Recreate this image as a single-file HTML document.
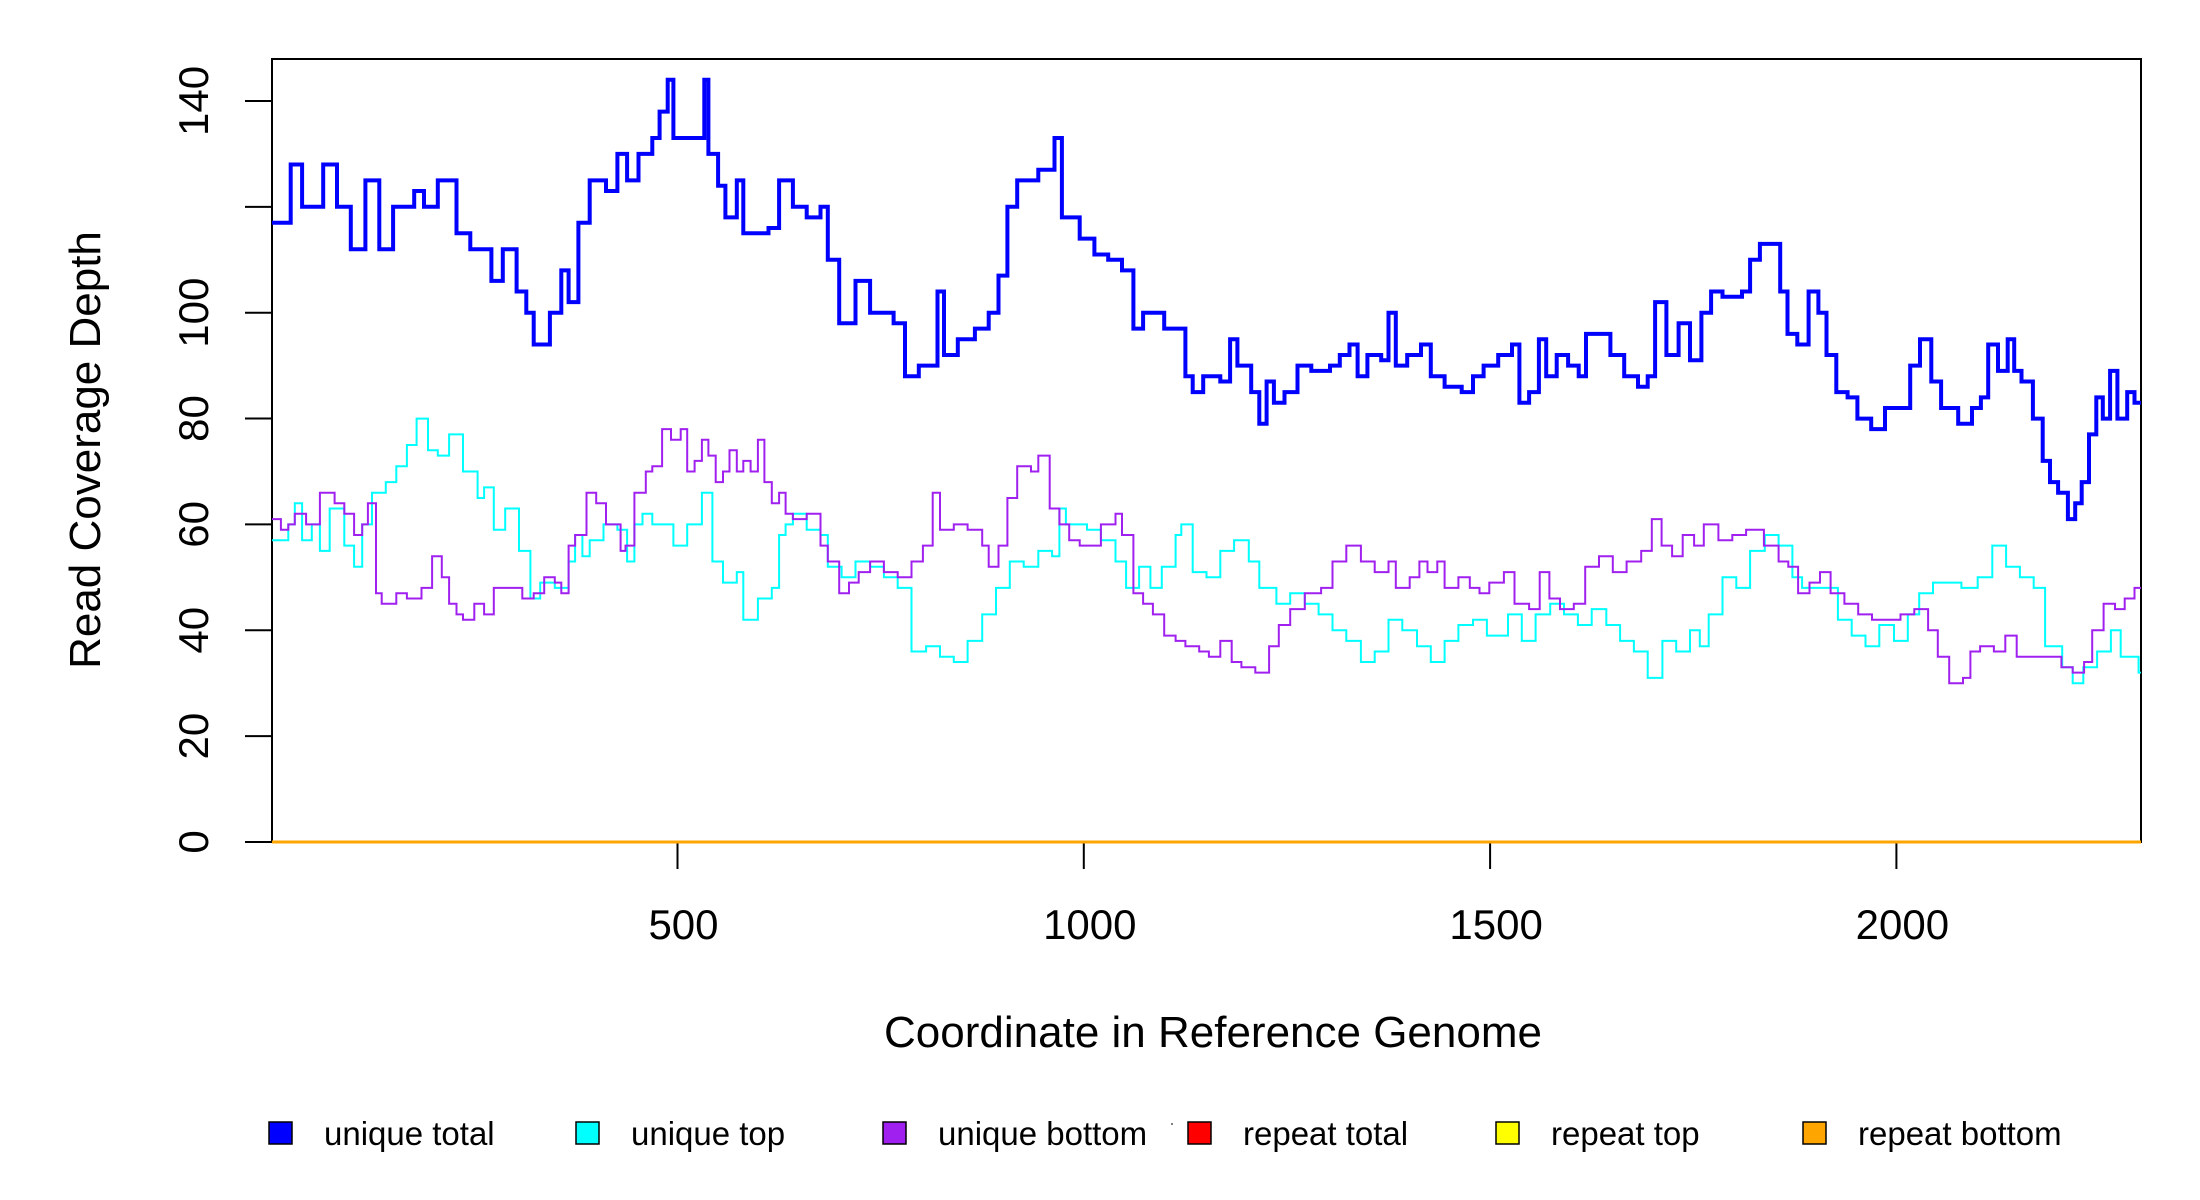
<!DOCTYPE html>
<html><head><meta charset="utf-8"><style>
html,body{margin:0;padding:0;background:#fff}
svg{display:block;font-family:"Liberation Sans",Arial,sans-serif}
</style></head><body>
<svg id="chart" width="2200" height="1200" viewBox="0 0 2200 1200" xmlns="http://www.w3.org/2000/svg">
<rect width="2200" height="1200" fill="#fff"/>
<rect x="272" y="59" width="1869" height="783" fill="none" stroke="#000" stroke-width="2"/>
<g id="axes"></g>
<g id="series"></g>
<text x="0" y="0" transform="translate(100,450) rotate(-90)" text-anchor="middle" font-size="44">Read Coverage Depth</text>
<text x="1213" y="1047" text-anchor="middle" font-size="44">Coordinate in Reference Genome</text>
<g id="legend"></g>
<circle cx="1172" cy="1124" r="1" fill="#555"/>
</svg>
<script>
const yTicks=[0,20,40,60,80,100,120,140];
const yTickLabels=["0","20","40","60","80","100","","140"];
const xTicks=[500,1000,1500,2000];
const xTickLabels=["500","1000","1500","2000"];
const xMin=1,xMax=2301,yMin=0,yMax=147.93;

const totalPos=[1,24,38,64,81,98,116,133,150,176,188,205,228,245,271,285,302,314,323,343,357,366,378,392,412,426,438,452,469,478,488,495,521,533,538,550,559,573,581,612,625,642,659,676,685,699,719,737,766,780,797,820,828,845,866,883,895,906,918,944,964,973,995,1013,1030,1047,1061,1073,1099,1125,1134,1147,1168,1180,1189,1206,1216,1225,1234,1247,1263,1280,1303,1315,1327,1337,1349,1366,1375,1384,1398,1415,1427,1444,1465,1479,1492,1510,1527,1536,1548,1560,1569,1582,1596,1609,1618,1635,1648,1665,1682,1694,1703,1717,1732,1746,1760,1772,1786,1810,1820,1832,1849,1857,1866,1878,1892,1904,1914,1926,1940,1952,1969,1986,2008,2017,2029,2043,2055,2076,2093,2104,2113,2125,2137,2145,2154,2168,2180,2189,2199,2211,2220,2228,2237,2246,2254,2263,2272,2284,2293];
const totalVals=[117,128,120,128,120,112,125,112,120,123,120,125,115,112,106,112,104,100,94,100,108,102,117,125,123,130,125,130,133,138,144,133,133,144,130,124,118,125,115,116,125,120,118,120,110,98,106,100,98,88,90,104,92,95,97,100,107,120,125,127,133,118,114,111,110,108,97,100,97,88,85,88,87,95,90,85,79,87,83,85,90,89,90,92,94,88,92,91,100,90,92,94,88,86,85,88,90,92,94,83,85,95,88,92,90,88,96,96,92,88,86,88,102,92,98,91,100,104,103,104,110,113,113,104,96,94,104,100,92,85,84,80,78,82,82,90,95,87,82,79,82,84,94,89,95,89,87,80,72,68,66,61,64,68,77,84,80,89,80,85,83];

const topPos=[1,21,29,38,50,60,72,90,102,112,124,141,154,167,179,193,205,219,236,254,262,274,288,305,319,331,349,366,374,383,392,409,426,438,447,457,469,478,495,512,530,543,556,573,581,599,616,625,633,642,659,676,685,702,719,737,754,771,788,806,823,840,857,875,892,909,926,944,961,970,978,1004,1021,1039,1052,1068,1082,1096,1113,1120,1134,1151,1168,1185,1203,1216,1237,1254,1272,1289,1306,1323,1341,1358,1375,1392,1410,1427,1444,1461,1479,1496,1522,1539,1556,1574,1591,1608,1625,1643,1660,1677,1694,1712,1729,1746,1758,1769,1786,1803,1820,1838,1855,1872,1884,1907,1928,1945,1962,1979,1997,2014,2028,2045,2080,2100,2118,2135,2152,2169,2183,2204,2217,2230,2247,2264,2276,2298];
const topVals=[57,60,64,57,60,55,63,56,52,60,66,68,71,75,80,74,73,77,70,65,67,59,63,55,46,49,48,53,58,54,57,60,59,53,60,62,60,60,56,60,66,53,49,51,42,46,48,58,60,62,59,58,52,50,53,52,50,48,36,37,35,34,38,43,48,53,52,55,54,63,60,59,57,53,48,52,48,52,58,60,51,50,55,57,53,48,45,47,45,43,40,38,34,36,42,40,37,34,38,41,42,39,43,38,43,45,43,41,44,41,38,36,31,38,36,40,37,43,50,48,55,58,56,50,48,48,42,39,37,41,38,43,47,49,48,50,56,52,50,48,37,33,30,33,36,40,35,32];

const botPos=[1,12,21,29,43,60,78,90,102,112,119,129,136,154,167,185,198,210,219,228,236,250,262,274,292,309,323,336,349,357,366,374,388,400,412,423,430,436,447,461,469,481,492,504,512,521,530,538,547,556,564,573,581,590,599,607,616,625,633,642,659,676,685,699,711,723,737,754,771,788,802,814,823,840,857,875,883,895,906,918,935,944,958,970,982,995,1021,1039,1047,1061,1073,1085,1099,1113,1125,1142,1154,1168,1182,1194,1211,1228,1240,1254,1272,1292,1306,1323,1341,1358,1375,1384,1401,1413,1423,1435,1444,1461,1475,1487,1499,1517,1530,1548,1561,1573,1586,1603,1617,1634,1651,1668,1686,1699,1711,1724,1737,1751,1763,1781,1798,1815,1837,1855,1867,1879,1893,1906,1919,1936,1953,1970,1988,2005,2022,2039,2051,2065,2082,2091,2103,2120,2134,2148,2165,2186,2203,2217,2231,2241,2255,2269,2281,2293];
const botVals=[61,59,60,62,60,66,64,62,58,60,64,47,45,47,46,48,54,50,45,43,42,45,43,48,48,46,47,50,49,47,56,58,66,64,60,60,55,56,66,70,71,78,76,78,70,72,76,73,68,70,74,70,72,70,76,68,64,66,62,61,62,56,53,47,49,51,53,51,50,53,56,66,59,60,59,56,52,56,65,71,70,73,63,60,57,56,60,62,58,47,45,43,39,38,37,36,35,38,34,33,32,37,41,44,47,48,53,56,53,51,53,48,50,53,51,53,48,50,48,47,49,51,45,44,51,46,44,45,52,54,51,53,55,61,56,54,58,56,60,57,58,59,56,53,52,47,49,51,47,45,43,42,42,43,44,40,35,30,31,36,37,36,39,35,35,35,33,32,34,40,45,44,46,48];

const repeatPos=[1,2301];
const repeatTotalVals=[0,0];
const repeatTopVals=[0,0];
const repeatBotVals=[0,0];

const L=272,R=2141,T=59,B=842;
function xS(v){return L+(v-xMin)/(xMax-xMin)*(R-L);}
function yS(v){return B-(v-yMin)/(yMax-yMin)*(B-T);}
const NS="http://www.w3.org/2000/svg";
function mk(tag,attrs){const e=document.createElementNS(NS,tag);for(const k in attrs)e.setAttribute(k,attrs[k]);return e;}

const axes=document.getElementById('axes');
yTicks.forEach((t,i)=>{
  const ln=mk('line',{x1:245,x2:L,y1:yS(t),y2:yS(t),stroke:'#000','stroke-width':2});
  
  
  axes.appendChild(ln);
  if(yTickLabels[i]){
    const tx=mk('text',{transform:'translate(208,'+yS(t)+') rotate(-90)','text-anchor':'middle','font-size':42});
    
    
    tx.textContent=yTickLabels[i];axes.appendChild(tx);
  }
});
xTicks.forEach((t,i)=>{
  const ln=mk('line',{x1:xS(t),x2:xS(t),y1:B,y2:B+27,stroke:'#000','stroke-width':2});
  
  
  axes.appendChild(ln);
  const tx=mk('text',{x:xS(t)+6,y:939,'text-anchor':'middle','font-size':42});
  
  
  tx.textContent=xTickLabels[i];axes.appendChild(tx);
});

function stepPath(pos,vals){
  let d='M'+xS(pos[0]).toFixed(1)+' '+yS(vals[0]).toFixed(1);
  for(let i=1;i<pos.length;i++){d+=' H'+xS(pos[i]).toFixed(1)+' V'+yS(vals[i]).toFixed(1);}
  d+=' H'+xS(xMax).toFixed(1);
  return d;
}
const series=document.getElementById('series');
function addSeries(name,pos,vals,color,w){
  const p=mk('path',{d:stepPath(pos,vals),fill:'none',stroke:color,'stroke-width':w,'stroke-linejoin':'miter'});
  
  
  series.appendChild(p);
}
addSeries('unique-top-line',topPos,topVals,'#00ffff',2);
addSeries('unique-bottom-line',botPos,botVals,'#a020f0',2);
addSeries('unique-total-line',totalPos,totalVals,'#0000ff',4);
addSeries('repeat-total-line',repeatPos,repeatTotalVals,'#ff0000',3);
addSeries('repeat-top-line',repeatPos,repeatTopVals,'#ffff00',3);
addSeries('repeat-bottom-line',repeatPos,repeatBotVals,'#ffa500',3);

const legNames=['unique total','unique top','unique bottom','repeat total','repeat top','repeat bottom'];
const legColors=['#0000ff','#00ffff','#a020f0','#ff0000','#ffff00','#ffa500'];
const legSq=[269,576,883,1188,1496,1803];
const legend=document.getElementById('legend');
legNames.forEach((n,i)=>{
  const r=mk('rect',{x:legSq[i],y:1122,width:23,height:22,fill:legColors[i],stroke:'#000','stroke-width':1.5});
  
  
  legend.appendChild(r);
  const t=mk('text',{x:legSq[i]+55,y:1145,'font-size':33});
  
  
  t.textContent=n;legend.appendChild(t);
});
</script>
</body></html>
